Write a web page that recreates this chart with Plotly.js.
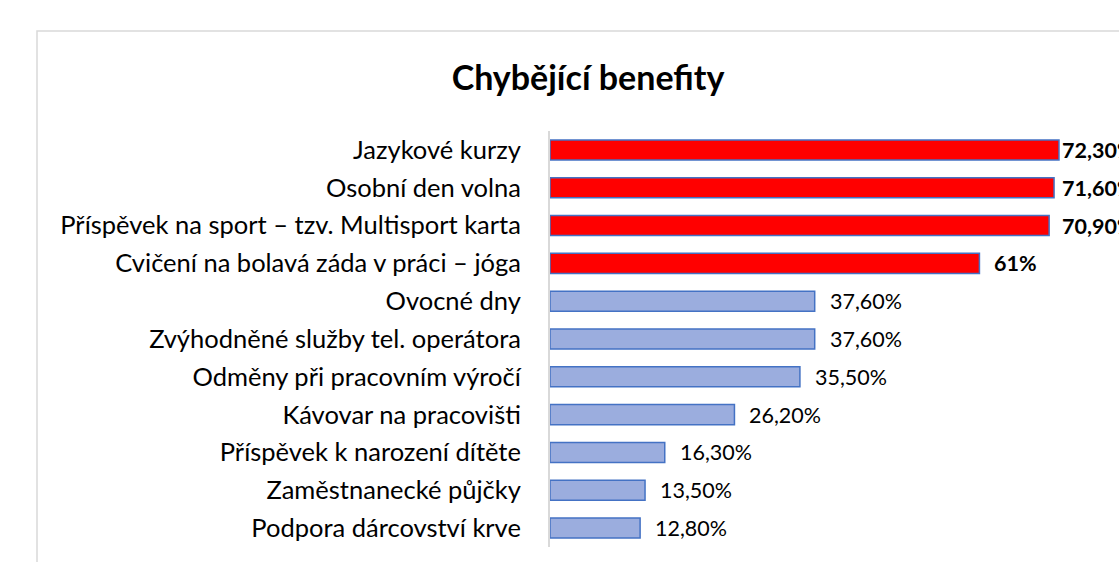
<!DOCTYPE html>
<html>
<head>
<meta charset="utf-8">
<script src="https://cdn.plot.ly/plotly-3.0.1.min.js"></script>
<style>html,body{margin:0;padding:0;background:#fff;}#chart{width:1119px;height:562px;}</style>
</head>
<body>
<div id="chart"></div>
<script>
const categories = [
  "Jazykové kurzy",
  "Osobní den volna",
  "Příspěvek na sport – tzv. Multisport karta",
  "Cvičení na bolavá záda v práci – jóga",
  "Ovocné dny",
  "Zvýhodněné služby tel. operátora",
  "Odměny při pracovním výročí",
  "Kávovar na pracovišti",
  "Příspěvek k narození dítěte",
  "Zaměstnanecké půjčky",
  "Podpora dárcovství krve"
];
const values = [72.3, 71.6, 70.9, 61, 37.6, 37.6, 35.5, 26.2, 16.3, 13.5, 12.8];
const valueLabels = ["72,30%", "71,60%", "70,90%", "61%", "37,60%", "37,60%", "35,50%", "26,20%", "16,30%", "13,50%", "12,80%"];
const highlighted = [true, true, true, true, false, false, false, false, false, false, false];

const FONT = "Lato, 'Open Sans', sans-serif";

const W = 1119, H = 562;
const L = 550, R = 1119, T = 131, B = 547;
const xMax = (R - L) / 7.04;
const pxPerUnit = (R - L) / xMax;
const labelLimit = 72.5;   // labels are pushed left so they stay inside the chart, as in the original
const px2x = p => (p - L) / (R - L);
const px2y = p => (B - p) / (B - T);

const trace = {
  type: "bar",
  orientation: "h",
  y: categories,
  x: values,
  marker: {
    color: highlighted.map(h => h ? "#ff0000" : "#9badde"),
    line: {color: "#4472c4", width: 1.5}
  },
  hoverinfo: "none"
};

const annotations = categories.map((c, i) => ({
  x: values[i],
  y: c,
  xref: "x",
  yref: "y",
  text: highlighted[i] ? "<b>" + valueLabels[i] + "</b>" : valueLabels[i],
  showarrow: false,
  xanchor: "left",
  yanchor: "middle",
  xshift: Math.min(13, (labelLimit - values[i]) * pxPerUnit),
  font: {family: FONT, size: 21.5, color: "#000"}
}));

const layout = {
  width: W,
  height: H,
  margin: {l: L, r: W - R, t: T, b: H - B, pad: 0},
  paper_bgcolor: "#fff",
  plot_bgcolor: "#fff",
  showlegend: false,
  bargap: 0.47,
  title: {
    text: "<b>Chybějící benefity</b>",
    font: {family: FONT, size: 34, color: "#000"},
    x: 588 / W,
    xanchor: "center",
    xref: "container",
    y: 1 - 78 / H,
    yanchor: "middle",
    yref: "container"
  },
  xaxis: {
    range: [0, xMax],
    showgrid: false,
    zeroline: false,
    showline: false,
    showticklabels: false,
    ticks: ""
  },
  yaxis: {
    type: "category",
    autorange: "reversed",
    showgrid: false,
    zeroline: false,
    showline: true,
    linecolor: "#d9d9d9",
    linewidth: 2,
    ticks: "",
    ticklabelstandoff: 22,
    tickfont: {family: FONT, size: 25.5, color: "#000"}
  },
  annotations: annotations,
  shapes: [{
    type: "rect",
    xref: "paper",
    yref: "paper",
    x0: px2x(37),
    x1: px2x(1200),
    y0: px2y(620),
    y1: px2y(31),
    line: {color: "#d9d9d9", width: 1.5},
    fillcolor: "rgba(0,0,0,0)",
    layer: "below"
  }]
};

Plotly.newPlot("chart", [trace], layout, {displayModeBar: false, staticPlot: true});
</script>
</body>
</html>
